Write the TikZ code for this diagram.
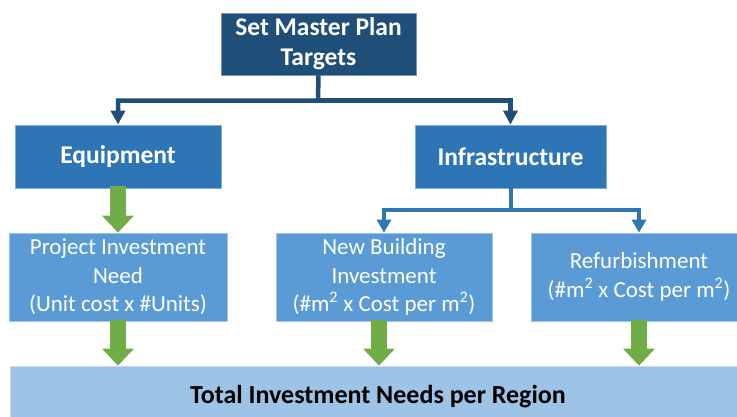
\documentclass[tikz,border=0pt]{standalone}
\usepackage{fontspec}
\setmainfont{Carlito}
\usetikzlibrary{arrows.meta}
\definecolor{cdark}{HTML}{1F4E79}
\definecolor{cmid}{HTML}{2E75B6}
\definecolor{clight}{HTML}{5B9BD5}
\definecolor{clighter}{HTML}{9DC3E6}
\definecolor{cgreen}{HTML}{70AD47}
\tikzset{
  boxbase/.style={rectangle, inner sep=0pt, align=center, line width=0.8pt},
  topbox/.style={boxbase, fill=cdark, draw=cdark!60!white, text=white,
    font=\fontsize{25.5}{30}\selectfont\bfseries},
  midbox/.style={boxbase, fill=cmid, draw=cmid!60!white, text=white,
    font=\fontsize{25.5}{30}\selectfont\bfseries},
  lowbox/.style={boxbase, fill=clight, draw=clight!60!white, text=white,
    font=\fontsize{23}{28.5}\selectfont},
  totalbox/.style={boxbase, fill=clighter, draw=clighter!60!white, text=black,
    font=\fontsize{26}{30}\selectfont\bfseries},
  darkconn/.style={draw=cdark, line width=4.5pt,
    -{Triangle[width=14pt,length=14pt]}},
  midconn/.style={draw=cmid, line width=4pt,
    -{Triangle[width=14pt,length=13pt]}},
  greenarrow/.style={draw=cgreen, line width=16pt,
    -{Triangle[width=31pt,length=17pt]}},
}
\begin{document}
\begin{tikzpicture}[x=1pt,y=-1pt]
\useasboundingbox (0,0) rectangle (737,416);
\fill[white] (0,0) rectangle (737,416);
\node[topbox, minimum width=195pt, minimum height=62pt] (top) at (318.5,44) {Set Master Plan\\Targets};
\node[midbox, minimum width=206pt, minimum height=63pt] (equip) at (118,156.5) {\raisebox{-2pt}{Equipment}};
\node[midbox, minimum width=191pt, minimum height=63pt] (infra) at (510.5,156.5) {\raisebox{-2pt}{Infrastructure}};
\node[lowbox, minimum width=218pt, minimum height=88pt] (proj) at (118,277) {Project Investment\\Need\\(Unit cost x \#Units)};
\node[lowbox, minimum width=216pt, minimum height=88pt] (newb) at (384,277) {New Building\\Investment\\(\#m\textsuperscript{2} x Cost per m\textsuperscript{2})};
\node[lowbox, minimum width=216pt, minimum height=88pt] (refu) at (639,277) {Refurbishment\\(\#m\textsuperscript{2} x Cost per m\textsuperscript{2})};
\node[totalbox, minimum width=736pt, minimum height=62pt] (total) at (378,397) {Total Investment Needs per Region};
% dark connectors
\coordinate (jt) at (318,100.5);
\draw[darkconn] (top.south) -- (jt) -| (equip.north);
\draw[darkconn] (jt) -| (infra.north);
% mid connectors
\coordinate (ji) at (510.5,210);
\draw[midconn] (infra.south) -- (ji) -| (newb.north);
\draw[midconn] (ji) -| (refu.north);
% green arrows
\draw[greenarrow] ([yshift=2pt]equip.south) -- (proj.north);
\draw[greenarrow] ([yshift=1.5pt]proj.south) -- (proj.south |- total.north);
\draw[greenarrow] ([xshift=-5pt,yshift=1.5pt]newb.south) -- ([xshift=-5pt]newb.south |- total.north);
\draw[greenarrow] ([yshift=1.5pt]refu.south) -- (refu.south |- total.north);
\end{tikzpicture}
\end{document}
